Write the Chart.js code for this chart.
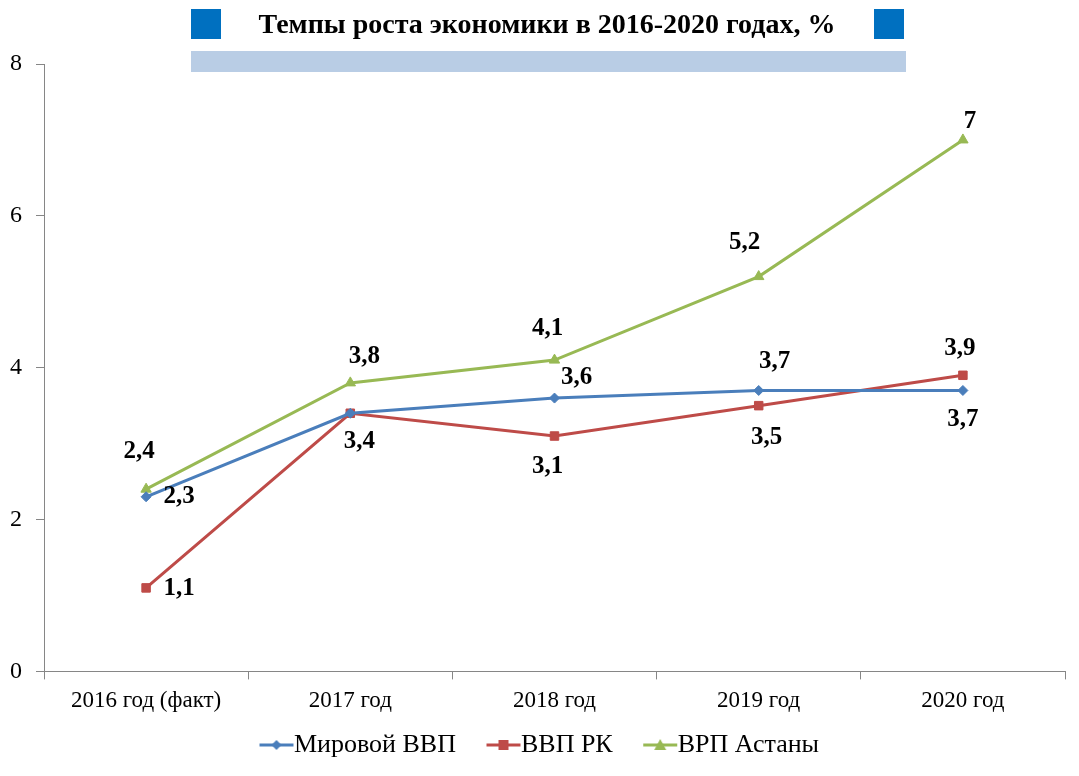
<!DOCTYPE html>
<html>
<head>
<meta charset="utf-8">
<script src="https://cdn.jsdelivr.net/npm/chart.js@4"></script>
<style>
  html, body { margin: 0; padding: 0; background: #fff; }
  #wrap { width: 1079px; height: 776px; position: relative; }
</style>
</head>
<body>
<div id="wrap"><canvas id="growth-chart"></canvas></div>
<script>
const years = ['2016 год (факт)', '2017 год', '2018 год', '2019 год', '2020 год'];
const worldGdp = [2.3, 3.4, 3.6, 3.7, 3.7];
const kzGdp = [1.1, 3.4, 3.1, 3.5, 3.9];
const astanaGrp = [2.4, 3.8, 4.1, 5.2, 7];
const seriesNames = ['Мировой ВВП', 'ВВП РК', 'ВРП Астаны'];
const yTicks = [0, 2, 4, 6, 8];
const titleText = 'Темпы роста экономики в 2016-2020 годах, %';

// where each value label sits relative to its point (null = not drawn)
const labelOffsets = [
    [[33, 0], null, [22, -21], [16, -29], [0, 29]],
    [[33, 1], [9, 28], [-7, 31], [8, 32], [-3, -27]],
    [[-7, -38], [14, -26], [-7, -32], [-14, -34], [7, -18]]
];

const serif = "'Liberation Serif', 'Times New Roman', serif";
const colors = ['#4a7ebb', '#be4b48', '#98b954'];
const styles = ['rectRot', 'rect', 'triangle'];
const radii = [5, 6, 6];

// legend swatch: line with marker, sitting in the right half of the image
function legendIcon(i) {
    const c = document.createElement('canvas');
    c.width = 70; c.height = 14;
    const g = c.getContext('2d');
    const x0 = 35;
    g.strokeStyle = colors[i];
    g.lineWidth = 3;
    g.beginPath(); g.moveTo(x0, 7); g.lineTo(x0 + 34, 7); g.stroke();
    g.fillStyle = colors[i];
    g.beginPath();
    const cx = x0 + 17;
    if (i === 0) { g.moveTo(cx, 2); g.lineTo(cx + 5, 7); g.lineTo(cx, 12); g.lineTo(cx - 5, 7); }
    else if (i === 1) { g.rect(cx - 5, 2, 10, 10); }
    else { g.moveTo(cx, 1); g.lineTo(cx + 6, 12); g.lineTo(cx - 6, 12); }
    g.closePath(); g.fill();
    return c;
}

// heading: blue squares, pale bar and the title text
const titleDecor = {
    id: 'titleDecor',
    beforeDraw(chart) {
        const ctx = chart.ctx;
        ctx.save();
        ctx.fillStyle = '#0070c0';
        ctx.fillRect(191, 9, 30, 30);
        ctx.fillRect(874, 9, 30, 30);
        ctx.fillStyle = '#b9cde5';
        ctx.fillRect(191, 51, 715, 21);
        ctx.fillStyle = '#000';
        ctx.font = 'bold 28px ' + serif;
        ctx.textAlign = 'center';
        ctx.textBaseline = 'middle';
        ctx.fillText(titleText, 547, 26);
        ctx.restore();
    }
};

// nudge the legend a little
const legendShift = {
    id: 'legendShift',
    afterLayout(chart) {
        if (chart.legend) {
            chart.legend.left -= 2;
            chart.legend.right -= 2;
        }
    }
};

const valueLabels = {
    id: 'valueLabels',
    afterDatasetsDraw(chart) {
        const ctx = chart.ctx;
        ctx.save();
        ctx.font = 'bold 25px ' + serif;
        ctx.fillStyle = '#000';
        ctx.textAlign = 'center';
        ctx.textBaseline = 'middle';
        chart.data.datasets.forEach((ds, di) => {
            const meta = chart.getDatasetMeta(di);
            meta.data.forEach((pt, i) => {
                const off = labelOffsets[di][i];
                if (!off) return;
                const txt = String(ds.data[i]).replace('.', ',');
                ctx.fillText(txt, pt.x + off[0], pt.y + off[1]);
            });
        });
        ctx.restore();
    }
};

function makeDataset(i, values) {
    return {
        label: seriesNames[i],
        data: values,
        borderColor: colors[i],
        backgroundColor: colors[i],
        borderWidth: 3,
        tension: 0,
        pointStyle: styles[i],
        pointRadius: radii[i],
        pointBackgroundColor: colors[i],
        pointBorderColor: colors[i],
        pointBorderWidth: 1
    };
}

const ctx = document.getElementById('growth-chart').getContext('2d');
new Chart(ctx, {
    type: 'line',
    data: {
        labels: years,
        datasets: [makeDataset(0, worldGdp), makeDataset(1, kzGdp), makeDataset(2, astanaGrp)]
    },
    options: {
        responsive: true,
        maintainAspectRatio: false,
        animation: false,
        layout: { padding: { left: -4, right: 14, top: 64, bottom: 8 } },
        scales: {
            x: {
                offset: true,
                grid: { display: true, offset: true, drawOnChartArea: false, tickLength: 8, color: '#868686' },
                border: { color: '#868686', width: 1 },
                ticks: { color: '#000', font: { family: serif, size: 23 }, padding: 8, maxRotation: 0 }
            },
            y: {
                min: 0,
                max: 8,
                afterBuildTicks(scale) { scale.ticks = yTicks.map(v => ({ value: v })); },
                grid: { display: true, drawOnChartArea: false, tickLength: 8, color: '#868686' },
                border: { color: '#868686', width: 1 },
                ticks: { color: '#000', font: { family: serif, size: 24 }, padding: 14 }
            }
        },
        plugins: {
            title: { display: false },
            legend: {
                position: 'bottom',
                labels: {
                    color: '#000',
                    font: { family: serif, size: 26 },
                    usePointStyle: true,
                    pointStyleWidth: 43,
                    padding: 9,
                    generateLabels(chart) {
                        return chart.data.datasets.map((ds, i) => ({
                            text: ds.label,
                            pointStyle: legendIcon(i),
                            fillStyle: colors[i],
                            strokeStyle: colors[i],
                            lineWidth: 0,
                            hidden: false,
                            datasetIndex: i,
                            fontColor: '#000'
                        }));
                    }
                }
            },
            tooltip: { enabled: false }
        }
    },
    plugins: [titleDecor, legendShift, valueLabels]
});
</script>
</body>
</html>
